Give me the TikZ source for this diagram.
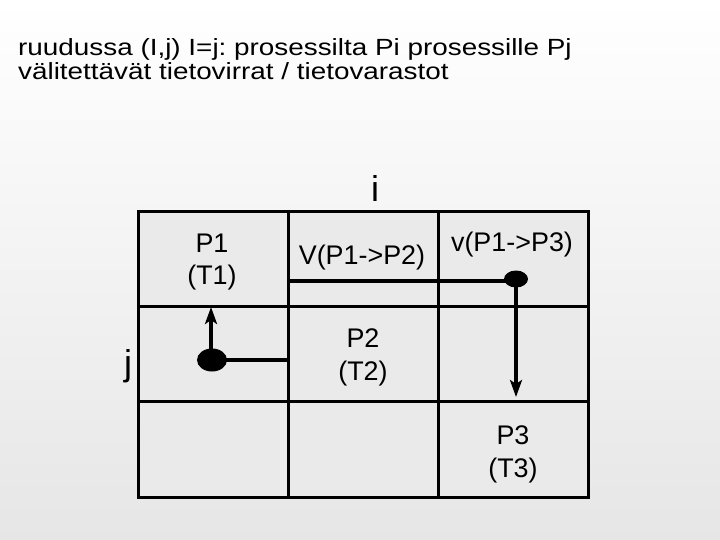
\documentclass[tikz,border=0pt]{standalone}
\usepackage{fontspec}
\setmainfont{Liberation Sans}
\newfontfamily\titlefont[FakeStretch=1.19]{Liberation Sans}
\usetikzlibrary{arrows.meta,shapes.geometric}
\definecolor{cellgray}{HTML}{EAEAEA}
\definecolor{bggray}{HTML}{E6E6E6}
\frenchspacing
\begin{document}
\begin{tikzpicture}[x=1bp,y=-1bp,
  cell/.style={draw=black,line width=3bp,fill=cellgray,minimum width=150bp,minimum height=95.3bp,inner sep=0pt},
  lbl/.style={font=\fontsize{27}{33}\selectfont,align=center,inner sep=0pt},
  axis/.style={font=\fontsize{36}{40}\selectfont,inner sep=0pt,anchor=base},
  flow/.style={line width=4bp},
  arr/.style={line width=4bp,-{Stealth[length=17bp,width=12bp,inset=4bp]}},
  dot/.style={ellipse,fill=black,inner sep=0pt}]
\useasboundingbox (0,0) rectangle (720,540);
\shade[top color=white,bottom color=bggray,middle color=white!50!bggray,shading angle=0] (0,0) rectangle (720,540);
\node[anchor=base west,align=left,inner sep=0pt,font=\titlefont\fontsize{23.5}{25}\selectfont\frenchspacing] (title) at (18,80)
  {ruudussa (I,j) I=j: prosessilta Pi prosessille Pj\\välitettävät tietovirrat / tietovarastot};
% grid
\foreach \r/\y in {0/258.75,1/354.25,2/449.5}{
  \foreach \c/\x in {0/213,1/363,2/513}{
    \node[cell] (c\r\c) at (\x,\y) {};
  }
}
\node[axis] (ilab) at (375,201.5) {i};
\node[axis] (jlab) at (128,375.5) {j};
\node[lbl,anchor=base] (p1) at (212,285) {P1\\(T1)};
\node[lbl,anchor=base] (p2) at (363,380) {P2\\(T2)};
\node[lbl,anchor=base] (p3) at (513,477) {P3\\(T3)};
\node[lbl,anchor=base] (v12) at (362,265) {V(P1->P2)};
\node[lbl,anchor=base] (v13) at (512,252) {v(P1->P3)};
% dots
\node[dot,minimum width=24bp,minimum height=17bp] (d13) at (516,279) {};
\node[dot,minimum width=30bp,minimum height=23bp] (d1) at (212,360) {};
\coordinate (t3) at (516,397);
\coordinate (t1) at (211,307);
\draw[flow] ([yshift=-2bp]d13.center) -- ([yshift=-2bp]d13.center -| c01.west);
\draw[arr] (d13.center) -- (t3);
\draw[flow] (d1.center) -- (d1.center -| c11.west);
\draw[arr] (d1.center -| t1) -- (t1);
\end{tikzpicture}
\end{document}
